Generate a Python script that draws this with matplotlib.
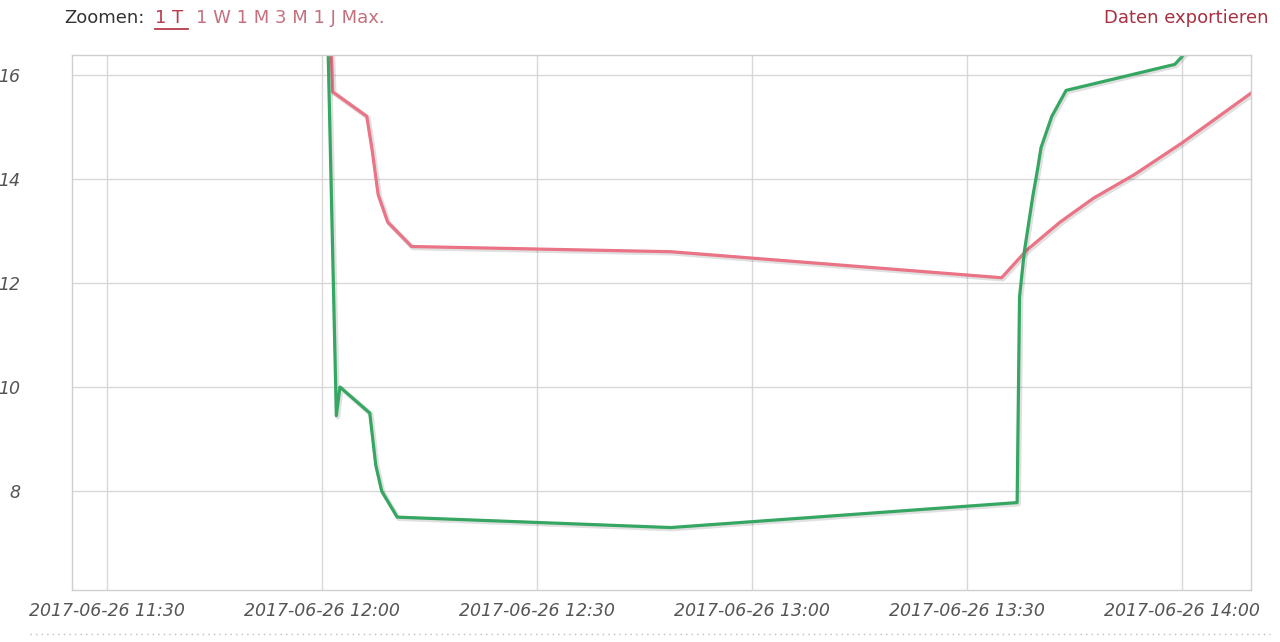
import matplotlib
matplotlib.use("Agg")
import matplotlib.pyplot as plt
import matplotlib.dates as mdates
import matplotlib.patheffects as pe
import pandas as pd

# values
red_times = ["12:01:15", "12:01:30", "12:06:15", "12:07:00", "12:07:50", "12:09:10", "12:12:30",
             "12:48:40", "13:34:50", "13:38:20", "13:43:00", "13:47:40", "13:53:20",
             "14:00:00", "14:09:40"]
red_values = [16.6, 15.67, 15.2, 14.55, 13.7, 13.17, 12.7, 12.6, 12.1, 12.63, 13.17, 13.63,
              14.08, 14.69, 15.65]

green_times = ["12:00:50", "12:02:00", "12:02:30", "12:06:40", "12:07:30", "12:08:20",
               "12:10:30", "12:48:40", "13:37:00", "13:37:20", "13:38:00", "13:39:10",
               "13:39:50", "13:40:20", "13:41:50", "13:43:50", "13:59:00", "14:00:20"]
green_values = [16.6, 9.45, 10.0, 9.5, 8.5, 8.0, 7.5, 7.3, 7.78, 11.73, 12.6, 13.65, 14.17,
                14.6, 15.2, 15.7, 16.2, 16.4]

day = "2017-06-26 "
red_x = pd.to_datetime([day + t for t in red_times])
green_x = pd.to_datetime([day + t for t in green_times])

fig = plt.figure(figsize=(12.8, 6.42), dpi=100)
ax = fig.add_axes([72 / 1280, 1 - 590 / 642, (1251 - 72) / 1280, (590 - 55) / 642])

shadow = [pe.SimpleLineShadow(offset=(1, -1), shadow_color="black", alpha=0.12, linewidth=3.5), pe.Normal()]
ax.plot(red_x, red_values, color="#ea7386", lw=2.3, path_effects=shadow, solid_joinstyle="round")
ax.plot(green_x, green_values, color="#36a763", lw=2.3, path_effects=shadow, solid_joinstyle="round")

ax.set_xlim(pd.Timestamp(day + "11:25:07"), pd.Timestamp(day + "14:09:38"))
ax.set_ylim(6.1, 16.38)
ax.set_yticks([8, 10, 12, 14, 16])
ax.xaxis.set_major_locator(mdates.MinuteLocator(byminute=[0, 30]))
ax.xaxis.set_major_formatter(mdates.DateFormatter("%Y-%m-%d %H:%M"))

ax.grid(True, color="#d8d8d8", lw=1)
ax.set_axisbelow(True)
for s in ax.spines.values():
    s.set_color("#cfcfcf")
    s.set_linewidth(1)
ax.tick_params(length=0, labelsize=12.5)
ax.tick_params(axis="x", pad=9)
ax.tick_params(axis="y", pad=37)
for lbl in ax.get_xticklabels() + ax.get_yticklabels():
    lbl.set_fontstyle("italic")
    lbl.set_color("#555555")

# header
hy = 1 - 18 / 642
fig.text(64 / 1280, hy, "Zoomen:", fontsize=13, color="#333333", va="center")
fig.text(155 / 1280, hy, "1 T", fontsize=13, color="#b83a4b", va="center")
fig.add_artist(plt.Line2D([155 / 1280, 188 / 1280], [1 - 29 / 642, 1 - 29 / 642], color="#b83a4b", lw=1.3))
fig.text(196 / 1280, hy, "1 W 1 M 3 M 1 J Max.", fontsize=13, color="#c5707e", va="center")
fig.text(1268 / 1280, hy, "Daten exportieren", fontsize=13, color="#a83040", va="center", ha="right")

# dotted rule under x labels
fig.add_artist(plt.Line2D([30 / 1280, 1270 / 1280], [1 - 634 / 642, 1 - 634 / 642],
                          color="#bbbbbb", lw=1, linestyle=(0, (1, 3))))

fig.savefig("out.png", dpi=100)
